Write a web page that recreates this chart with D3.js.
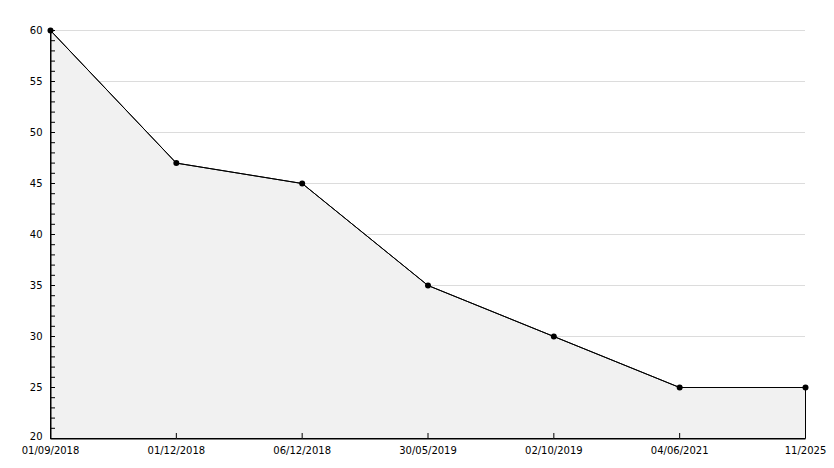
<!DOCTYPE html>
<html>
<head>
<meta charset="utf-8">
<script src="https://cdn.jsdelivr.net/npm/d3@7"></script>
<style>
  html, body { margin: 0; padding: 0; background: #fff; }
  svg { display: block; }
  text { font-family: "DejaVu Sans", Verdana, sans-serif; font-size: 10px; fill: #000; }
</style>
</head>
<body>
<svg id="chart" width="834" height="468"></svg>
<script>
// Chart data
const dates  = ['01/09/2018', '01/12/2018', '06/12/2018', '30/05/2019', '02/10/2019', '04/06/2021', '11/2025'];
const values = [60, 47, 45, 35, 30, 25, 25];
const yTicks = [20, 25, 30, 35, 40, 45, 50, 55, 60];

const W = 834, H = 468;
const m = { top: 30, right: 29, bottom: 30, left: 50 };

const svg = d3.select('#chart');

const x = d3.scalePoint().domain(d3.range(dates.length)).range([m.left, W - m.right]);
const y = d3.scaleLinear().domain([20, 60]).range([H - m.bottom, m.top]);

const data = values.map((v, i) => ({ i, v }));

// gridlines
svg.append('g').selectAll('line').data(yTicks.filter(t => t > 20)).join('line')
  .attr('x1', m.left).attr('x2', W - m.right)
  .attr('y1', d => y(d) + 0.5).attr('y2', d => y(d) + 0.5)
  .attr('stroke', '#dcdcdc').attr('stroke-width', 1);

// area
const area = d3.area().x(d => x(d.i) + 0.5).y0(y(20) + 0.5).y1(d => y(d.v) + 0.5);
svg.append('path').datum(data)
  .attr('d', area)
  .attr('fill', '#f1f1f1')
  .attr('stroke', '#000').attr('stroke-width', 1);

// axes
const yAxis = d3.axisLeft(y).tickValues(yTicks).tickSize(0).tickPadding(8);
const gy = svg.append('g').attr('transform', `translate(${m.left + 0.5},0)`).call(yAxis);
gy.select('.domain').attr('stroke', '#000');
gy.selectAll('.tick text').attr('dy', '0.35em').style('font-size', '10px');
gy.selectAll('.tick').attr('transform', d => `translate(0,${y(d) + 0.5})`);
gy.selectAll('.tick').filter(d => d === 20).select('text').attr('dy', '0.1em');

// y ticks (major + minor), pointing inward
const minor = d3.range(20, 61, 1);
svg.append('g').selectAll('line').data(minor).join('line')
  .attr('x1', m.left).attr('x2', m.left + 5)
  .attr('y1', d => y(d) + 0.5).attr('y2', d => y(d) + 0.5)
  .attr('stroke', '#000');

const xAxis = d3.axisBottom(x).tickFormat(i => dates[i]).tickSize(0).tickPadding(0);
const gx = svg.append('g').attr('transform', `translate(0,${y(20) + 0.5})`).call(xAxis);
gx.select('.domain').attr('stroke', '#000');
gx.selectAll('.tick text').attr('y', 15).attr('dy', '0').style('font-size', '10px');

// x ticks pointing inward
svg.append('g').selectAll('line').data(d3.range(dates.length)).join('line')
  .attr('x1', d => x(d) + 0.5).attr('x2', d => x(d) + 0.5)
  .attr('y1', y(20)).attr('y2', y(20) - 5)
  .attr('stroke', '#000');

// data line
const line = d3.line().x(d => x(d.i) + 0.5).y(d => y(d.v) + 0.5);
svg.append('path').datum(data)
  .attr('d', line).attr('fill', 'none').attr('stroke', '#000').attr('stroke-width', 1);

// markers
svg.append('g').selectAll('circle').data(data).join('circle')
  .attr('cx', d => x(d.i) + 0.5).attr('cy', d => y(d.v) + 0.5)
  .attr('r', 3).attr('fill', '#000');
</script>
</body>
</html>
